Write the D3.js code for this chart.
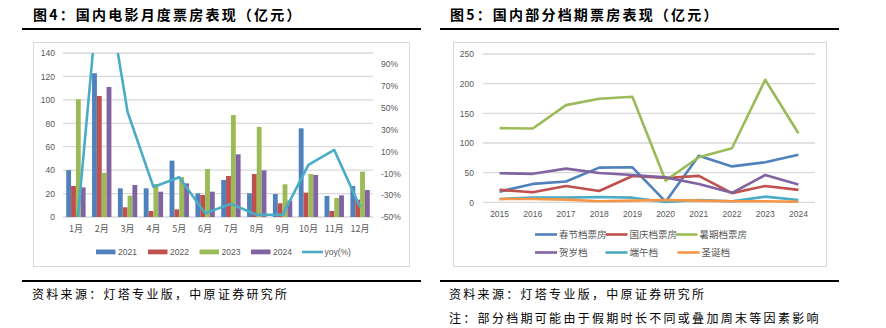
<!DOCTYPE html>
<html><head><meta charset="utf-8">
<script src="https://cdn.jsdelivr.net/npm/d3@7"></script>
<style>
html,body{margin:0;padding:0;background:#fff;}
svg{display:block;}
</style></head>
<body>
<script>
// ---------- data: left chart ----------
const months = ['1月','2月','3月','4月','5月','6月','7月','8月','9月','10月','11月','12月'];
const years = ['2021','2022','2023','2024'];
const box2021 = [40, 122.7, 24.5, 24.5, 48.1, 20.2, 31.6, 20.2, 19.6, 75.7, 18, 26.5];
const box2022 = [26.5, 103.3, 8.3, 5.1, 6.5, 18.8, 35, 36.7, 11.7, 20.8, 5.1, 14.8];
const box2023 = [100.5, 37.8, 18.2, 28.2, 34.1, 41, 87, 77, 27.9, 36.7, 16.2, 38.7];
const box2024 = [25.3, 111, 27.3, 21.6, 28.7, 21.6, 53.5, 39.8, 14, 35.9, 18.5, 23];
const yoy = [-70, 190, 46, -22.5, -13.7, -46.6, -38, -48, -48, -2.4, 11.3, -41];
const leftTicks = [0, 20, 40, 60, 80, 100, 120, 140];
const rightTicks = [-50, -30, -10, 10, 30, 50, 70, 90];

// ---------- data: right chart ----------
const seasonYears = ['2015','2016','2017','2018','2019','2020','2021','2022','2023','2024'];
const seasonNames = ['春节档票房','国庆档票房','暑期档票房','贺岁档','端午档','圣诞档'];
const springFestival = [18, 31, 35, 58.5, 59, 1, 78.5, 60.5, 67.5, 80];
const nationalDay = [21, 17, 27.5, 19, 44.4, 41, 44.5, 15.5, 27.5, 21];
const summer = [125, 124.4, 163.8, 174.5, 177.9, 36.5, 76, 91.2, 206.6, 116.5];
const newYear = [49, 48, 56.8, 49.5, 46, 42, 31, 16, 46, 30];
const dragonBoat = [5.6, 7.8, 7.8, 9, 7.8, 0.5, 3.9, 1.7, 9.5, 3.9];
const christmas = [5.6, 5.6, 4.5, 1.7, 2.8, 3.9, 2.8, 1.7, 1.7, 1];
const rightYTicks = [0, 50, 100, 150, 200, 250];

const barColors = ['#4F81BD','#C0504D','#9BBB59','#8064A2'];
const yoyColor = '#4BACC6';
const seasonColors = ['#4F81BD','#C0504D','#9BBB59','#8064A2','#4BACC6','#F79646'];

const W = 886, H = 328;
const svg = d3.select('body').append('svg').attr('width', W).attr('height', H)
  .style('background','#fff');

const cjk = '"Noto Sans CJK SC", "Noto Sans", sans-serif';
const num = '"Liberation Sans", Arial, sans-serif';
const grey = '#595959';
const gridC = '#d9d9d9';

// ---------- headers / footers ----------
function header(x0, x1, tx, title) {
  svg.append('text').attr('x', tx).attr('y', 20)
    .attr('font-family', cjk).attr('font-weight', 700).attr('font-size', 14)
    .attr('letter-spacing', '2.2px').attr('fill', '#000').text(title);
  svg.append('rect').attr('x', x0).attr('y', 28).attr('width', x1 - x0).attr('height', 2).attr('fill', '#000');
  svg.append('rect').attr('x', x0).attr('y', 280).attr('width', x1 - x0).attr('height', 2).attr('fill', '#000');
}
header(22, 421, 33, '图4：国内电影月度票房表现（亿元）');
header(440, 839, 450, '图5：国内部分档期票房表现（亿元）');

function foot(x, y, t) {
  svg.append('text').attr('x', x).attr('y', y)
    .attr('font-family', cjk).attr('font-size', 12).attr('letter-spacing', '2.3px')
    .attr('fill', '#000').text(t);
}
foot(32, 299, '资料来源：灯塔专业版，中原证券研究所');
foot(449, 299, '资料来源：灯塔专业版，中原证券研究所');
foot(449, 323, '注：部分档期可能由于假期时长不同或叠加周末等因素影响');

// ---------- left chart ----------
svg.append('rect').attr('x', 33.5).attr('y', 42.5).attr('width', 376).attr('height', 224)
  .attr('fill', 'none').attr('stroke', gridC).attr('stroke-width', 1);

const L = {x0: 63, x1: 373, y0: 53, y1: 217};
const xM = d3.scaleBand().domain(months).range([L.x0, L.x1]).padding(0);
const yL = d3.scaleLinear().domain([0, 140]).range([L.y1, L.y0]);
const yR = d3.scaleLinear().domain([-50, 100]).range([L.y1, L.y0]);
const bw = xM.bandwidth();
const xInner = d3.scaleBand().domain(years).range([bw * 0.125, bw * 0.875]).padding(0);

const gL = svg.append('g');
gL.selectAll('line.grid').data(leftTicks).join('line')
  .attr('x1', L.x0).attr('x2', L.x1)
  .attr('y1', d => yL(d)).attr('y2', d => yL(d))
  .attr('stroke', gridC).attr('stroke-width', 1.3);

const leftAxis = d3.axisLeft(yL).tickValues(leftTicks).tickSize(0).tickPadding(8);
gL.append('g').attr('transform', `translate(${L.x0},0)`).call(leftAxis)
  .call(g => g.select('.domain').remove())
  .call(g => g.selectAll('text').attr('font-family', num).attr('font-size', 8.5).attr('fill', grey));

const rightAxis = d3.axisRight(yR).tickValues(rightTicks).tickSize(0).tickPadding(8)
  .tickFormat(d => d + '%');
gL.append('g').attr('transform', `translate(${L.x1},0)`).call(rightAxis)
  .call(g => g.select('.domain').remove())
  .call(g => g.selectAll('text').attr('font-family', num).attr('font-size', 8.5).attr('fill', grey));

const bottomAxis = d3.axisBottom(xM).tickSize(0).tickPadding(9);
gL.append('g').attr('transform', `translate(0,${L.y1})`).call(bottomAxis)
  .call(g => g.select('.domain').remove())
  .call(g => g.selectAll('text').attr('font-family', cjk).attr('font-size', 9).attr('fill', grey));

const series = [box2021, box2022, box2023, box2024];
series.forEach((vals, si) => {
  gL.append('g').selectAll('rect').data(vals).join('rect')
    .attr('x', (d, i) => xM(months[i]) + xInner(years[si]))
    .attr('width', xInner.bandwidth())
    .attr('y', d => yL(d))
    .attr('height', d => yL(0) - yL(d))
    .attr('fill', barColors[si]);
});

svg.append('clipPath').attr('id', 'clipL').append('rect')
  .attr('x', L.x0).attr('y', L.y0).attr('width', L.x1 - L.x0).attr('height', L.y1 - L.y0);
const lineL = d3.line().x((d, i) => xM(months[i]) + bw / 2).y(d => yR(d));
gL.append('path').datum(yoy).attr('d', lineL).attr('clip-path', 'url(#clipL)')
  .attr('fill', 'none').attr('stroke', yoyColor).attr('stroke-width', 2.6)
  .attr('stroke-linejoin', 'round');

// legend left
const legL = [
  {t: '2021', c: barColors[0], x: 96, type: 'bar'},
  {t: '2022', c: barColors[1], x: 148, type: 'bar'},
  {t: '2023', c: barColors[2], x: 199.5, type: 'bar'},
  {t: '2024', c: barColors[3], x: 251, type: 'bar'},
  {t: 'yoy(%)', c: yoyColor, x: 302, type: 'line'}
];
const lg = svg.append('g');
legL.forEach(d => {
  if (d.type === 'bar') {
    lg.append('rect').attr('x', d.x).attr('y', 249.5).attr('width', 19.5).attr('height', 4.8).attr('fill', d.c);
  } else {
    lg.append('line').attr('x1', d.x).attr('x2', d.x + 21).attr('y1', 252).attr('y2', 252)
      .attr('stroke', d.c).attr('stroke-width', 2.6);
  }
  lg.append('text').attr('x', d.x + (d.type === 'bar' ? 22 : 22.5)).attr('y', 255)
    .attr('font-family', num).attr('font-size', 8.5).attr('fill', grey).text(d.t);
});

// ---------- right chart ----------
svg.append('rect').attr('x', 453.5).attr('y', 42.5).attr('width', 373).attr('height', 224)
  .attr('fill', 'none').attr('stroke', gridC).attr('stroke-width', 1);

const R = {x0: 483, x1: 815, y0: 54, y1: 202.3};
const xY = d3.scaleBand().domain(seasonYears).range([R.x0, R.x1]).padding(0);
const yS = d3.scaleLinear().domain([0, 250]).range([R.y1, R.y0]);
const gR = svg.append('g');
gR.selectAll('line.grid').data(rightYTicks).join('line')
  .attr('x1', R.x0).attr('x2', R.x1)
  .attr('y1', d => yS(d)).attr('y2', d => yS(d))
  .attr('stroke', gridC).attr('stroke-width', 1.3);
gR.append('g').attr('transform', `translate(${R.x0},0)`)
  .call(d3.axisLeft(yS).tickValues(rightYTicks).tickSize(0).tickPadding(9))
  .call(g => g.select('.domain').remove())
  .call(g => g.selectAll('text').attr('font-family', num).attr('font-size', 8.5).attr('fill', grey));
gR.append('g').attr('transform', `translate(0,${R.y1})`)
  .call(d3.axisBottom(xY).tickSize(0).tickPadding(9))
  .call(g => g.select('.domain').remove())
  .call(g => g.selectAll('text').attr('font-family', num).attr('font-size', 8.5).attr('fill', grey));

const seasonSeries = [springFestival, nationalDay, summer, newYear, dragonBoat, christmas];
const lineR = d3.line().x((d, i) => xY(seasonYears[i]) + xY.bandwidth() / 2).y(d => yS(d));
seasonSeries.forEach((vals, si) => {
  gR.append('path').datum(vals).attr('d', lineR)
    .attr('fill', 'none').attr('stroke', seasonColors[si]).attr('stroke-width', 2.6)
    .attr('stroke-linejoin', 'round');
});

// legend right
const legR = [
  {x: 535, y: 234.5}, {x: 605.5, y: 234.5}, {x: 675.5, y: 234.5},
  {x: 535, y: 252.5}, {x: 605.5, y: 252.5}, {x: 677.5, y: 252.5}
];
seasonNames.forEach((n, i) => {
  const p = legR[i];
  gR.append('line').attr('x1', p.x).attr('x2', p.x + 22).attr('y1', p.y).attr('y2', p.y)
    .attr('stroke', seasonColors[i]).attr('stroke-width', 2.6);
  gR.append('text').attr('x', p.x + 24).attr('y', p.y + 3.4)
    .attr('font-family', cjk).attr('font-size', 9.5).attr('fill', grey).text(n);
});
</script>
</body></html>
